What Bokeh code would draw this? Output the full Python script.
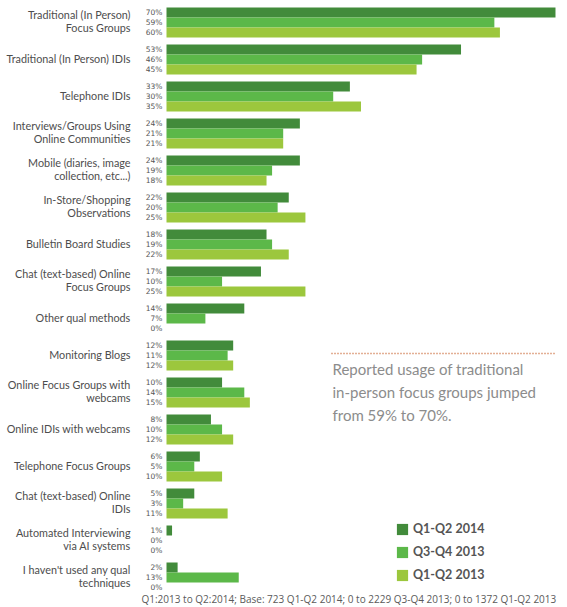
from bokeh.plotting import figure
from bokeh.models import Range1d, ColumnDataSource, Legend, LegendItem
from bokeh.core.properties import value
from bokeh.embed import file_html
from bokeh.resources import INLINE
import numpy as np

categories = [
    "Traditional (In Person)\nFocus Groups",
    "Traditional (In Person) IDIs",
    "Telephone IDIs",
    "Interviews/Groups Using\nOnline Communities",
    "Mobile (diaries, image\ncollection, etc...)",
    "In-Store/Shopping\nObservations",
    "Bulletin Board Studies",
    "Chat (text-based) Online\nFocus Groups",
    "Other qual methods",
    "Monitoring Blogs",
    "Online Focus Groups with\nwebcams",
    "Online IDIs with webcams",
    "Telephone Focus Groups",
    "Chat (text-based) Online\nIDIs",
    "Automated Interviewing\nvia AI systems",
    "I haven't used any qual\ntechniques",
]
series_names = ["Q1-Q2 2014", "Q3-Q4 2013", "Q1-Q2 2013"]
q1q2_2014 = [70, 53, 33, 24, 24, 22, 18, 17, 14, 12, 10, 8, 6, 5, 1, 2]
q3q4_2013 = [59, 46, 30, 21, 19, 20, 19, 10, 7, 11, 14, 10, 5, 3, 0, 13]
q1q2_2013 = [60, 45, 35, 21, 18, 25, 22, 25, 0, 12, 15, 12, 10, 11, 0, 0]
colors = ["#428b3b", "#5cb849", "#9cc73d"]
annotation = "Reported usage of traditional\nin-person focus groups jumped\nfrom 59% to 70%."
footnote = "Q1:2013 to Q2:2014; Base: 723 Q1-Q2 2014; 0 to 2229 Q3-Q4 2013; 0 to 1372 Q1-Q2 2013"

W, H = 567, 607
PPX = 5.557      # px per percent
X0 = 166         # px of 0%
PITCH = 37.0     # px per group
Y0 = 22          # px of first group centre
BAR = 10 / PITCH

def dx(px):  # px -> data x
    return (px - X0) / PPX

def dy(py):  # px -> data y
    return (py - Y0) / PITCH

p = figure(width=W, height=H, output_backend="svg", toolbar_location=None,
           x_range=Range1d(-X0 / PPX, (W - X0) / PPX),
           y_range=Range1d((H - Y0) / PITCH, -Y0 / PITCH),
           x_axis_location=None, y_axis_location=None, min_border=0)
p.grid.visible = False
p.outline_line_color = None
p.background_fill_color = "white"

idx = np.arange(len(categories))
renderers = []
for k, (vals, col) in enumerate(zip([q1q2_2014, q3q4_2013, q1q2_2013], colors)):
    ys = idx + (k - 1) * BAR
    src = ColumnDataSource(dict(y=ys, right=vals,
                                lab=[f"{v}%" for v in vals]))
    r = p.hbar(y="y", left=0, right="right", height=BAR, source=src,
               fill_color=col, line_color=None)
    renderers.append(r)
    p.text(x=dx(162), y="y", text="lab", source=src, text_align="right",
           text_baseline="middle", text_font=value("DejaVu Sans"),
           text_font_size="7.5px", text_color="#555555")

p.text(x=[dx(130)] * len(categories), y=idx, text=categories,
       text_align="right", text_baseline="middle", y_offset=-1.5,
       text_font=value("Lato"), text_font_size="10.8px",
       text_color="#4d4d4d", text_line_height=1.02)

# annotation
p.segment(x0=[dx(331)], x1=[dx(555)], y0=[dy(353)], y1=[dy(353)],
          line_color="#c8602c", line_width=1.5, line_dash="1 2")
p.text(x=[dx(332)], y=[dy(391.5)], text=[annotation], text_align="left",
       text_baseline="middle", text_font=value("Lato"),
       text_font_size="15px", text_color="#8c8c8c", text_line_height=1.3)

# footnote
p.text(x=[dx(141)], y=[dy(598)], text=[footnote], text_align="left",
       text_baseline="middle", text_font=value("Open Sans"),
       text_font_size="10px", text_color="#5a5a5a")

legend = Legend(items=[LegendItem(label=n, renderers=[r])
                       for n, r in zip(series_names, renderers)],
                location=(395, 25), glyph_width=14, glyph_height=14,
                label_height=12, spacing=8, padding=0, margin=0,
                label_standoff=4, label_text_font="Lato",
                label_text_font_style="bold", label_text_font_size="12.5px",
                label_text_color="#555555", border_line_color=None,
                background_fill_alpha=0)
p.add_layout(legend)

open("out.html", "w").write(file_html(p, INLINE))
